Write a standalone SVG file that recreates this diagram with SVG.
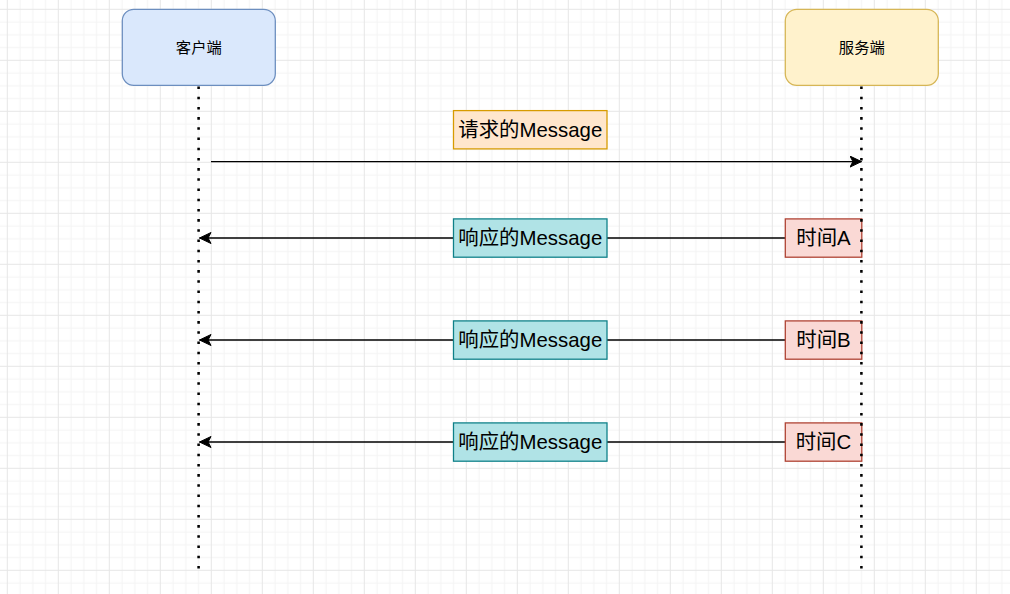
<svg xmlns="http://www.w3.org/2000/svg" width="1010" height="594" viewBox="0 0 1010 594">
  <defs>
    <pattern id="grid" patternUnits="userSpaceOnUse" x="57.8" y="8.8" width="51" height="51">
      <path d="M13.25 0V51M26 0V51M38.75 0V51M0 13.25H51M0 26H51M0 38.75H51" stroke="#f3f3f3" stroke-width="1" fill="none"/>
      <path d="M0.5 0V51M0 0.5H51" stroke="#e6e6e6" stroke-width="1" fill="none"/>
    </pattern>
    <marker id="arrow" markerUnits="userSpaceOnUse" viewBox="-12 -6 13 12" refX="0" refY="0" markerWidth="13" markerHeight="12" orient="auto">
      <path d="M0 0L-11.5 -5.5L-8.6 0L-11.5 5.5Z" fill="#000" stroke="#000" stroke-width="1"/>
    </marker>
    <style>
      text { font-family: "Liberation Sans", "Noto Sans CJK SC", sans-serif; fill: #000; text-anchor: middle; dominant-baseline: central; }
      .node-text { font-size: 15.3px; }
      .label-text { font-size: 20.4px; }
      .lifeline { stroke: #000; stroke-width: 2.55; stroke-dasharray: 2.55 7.65; fill: none; }
      .msg { stroke: #000; stroke-width: 1.275; fill: none; }
    </style>
  </defs>
  <rect x="0" y="0" width="1010" height="594" fill="#ffffff"/>
  <rect x="0" y="0" width="1010" height="594" fill="url(#grid)"/>

  <g id="client">
    <rect x="122.3" y="9.3" width="153" height="76" rx="11.5" ry="11.5" fill="#dae8fc" stroke="#6c8ebf" stroke-width="1.275"/>
    <text class="node-text" x="198.8" y="47.3">客户端</text>
  </g>
  <g id="server">
    <rect x="785.3" y="9.3" width="153" height="76" rx="11.5" ry="11.5" fill="#fff2cc" stroke="#d6b656" stroke-width="1.275"/>
    <text class="node-text" x="861.8" y="47.3">服务端</text>
  </g>

  <g id="connectors">
    <line class="msg" x1="211" y1="161.6" x2="861.5" y2="161.6" marker-end="url(#arrow)"/>
    <line class="msg" x1="785.3" y1="238" x2="199.5" y2="238" marker-end="url(#arrow)"/>
    <line class="msg" x1="785.3" y1="340" x2="199.5" y2="340" marker-end="url(#arrow)"/>
    <line class="msg" x1="785.3" y1="442" x2="199.5" y2="442" marker-end="url(#arrow)"/>
  </g>

  <g id="request-label">
    <rect x="453.5" y="110.6" width="153.5" height="38.3" fill="#ffe6cc" stroke="#d79b00" stroke-width="1.275"/>
    <text class="label-text" x="530.3" y="129.8">请求的Message</text>
  </g>
  <g id="response-a">
    <rect x="453.5" y="218.9" width="153.5" height="38.3" fill="#b0e3e6" stroke="#0e8088" stroke-width="1.275"/>
    <text class="label-text" x="530.3" y="238">响应的Message</text>
  </g>
  <g id="response-b">
    <rect x="453.5" y="320.9" width="153.5" height="38.3" fill="#b0e3e6" stroke="#0e8088" stroke-width="1.275"/>
    <text class="label-text" x="530.3" y="340">响应的Message</text>
  </g>
  <g id="response-c">
    <rect x="453.5" y="422.9" width="153.5" height="38.3" fill="#b0e3e6" stroke="#0e8088" stroke-width="1.275"/>
    <text class="label-text" x="530.3" y="442">响应的Message</text>
  </g>
  <g id="time-a">
    <rect x="785.3" y="218.9" width="76.5" height="38.3" fill="#fad9d5" stroke="#ae4132" stroke-width="1.275"/>
    <text class="label-text" x="823.5" y="238">时间A</text>
  </g>
  <g id="time-b">
    <rect x="785.3" y="320.9" width="76.5" height="38.3" fill="#fad9d5" stroke="#ae4132" stroke-width="1.275"/>
    <text class="label-text" x="823.5" y="340">时间B</text>
  </g>
  <g id="time-c">
    <rect x="785.3" y="422.9" width="76.5" height="38.3" fill="#fad9d5" stroke="#ae4132" stroke-width="1.275"/>
    <text class="label-text" x="823.5" y="442">时间C</text>
  </g>

  <g id="lifelines">
    <line class="lifeline" x1="198.6" y1="86.5" x2="198.6" y2="569"/>
    <line class="lifeline" x1="861.4" y1="86.5" x2="861.4" y2="569"/>
  </g>
</svg>
